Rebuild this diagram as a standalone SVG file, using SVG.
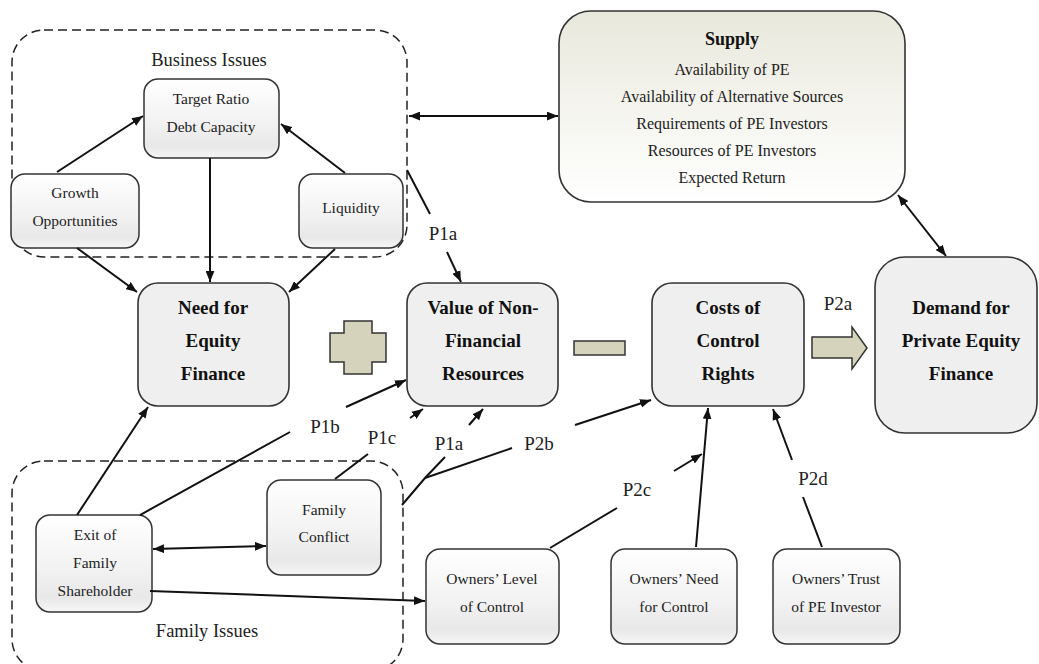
<svg xmlns="http://www.w3.org/2000/svg" width="1039" height="664" viewBox="0 0 1039 664">
<defs>
<linearGradient id="gs" x1="0" y1="0" x2="0" y2="1">
<stop offset="0" stop-color="#ffffff"/><stop offset="0.55" stop-color="#f2f2f2"/><stop offset="0.85" stop-color="#e8e8e8"/><stop offset="1" stop-color="#f6f6f6"/>
</linearGradient>
<linearGradient id="gsup" x1="0" y1="0" x2="0" y2="1">
<stop offset="0" stop-color="#e9e8dc"/><stop offset="1" stop-color="#ffffff"/>
</linearGradient>
<marker id="arr" viewBox="0 0 10 8" refX="10" refY="4" markerWidth="11" markerHeight="9" markerUnits="userSpaceOnUse" orient="auto-start-reverse">
<path d="M0,0 L10,4 L0,8 z" fill="#111"/>
</marker>
</defs>
<style>
.box{fill:url(#gs);stroke:#333;stroke-width:1.5}
.big{fill:#efefef;stroke:#333;stroke-width:1.6}
.dash{fill:none;stroke:#222;stroke-width:1.5;stroke-dasharray:9,5}
text{font-family:"Liberation Serif","Times New Roman","DejaVu Serif",serif;text-anchor:middle}
.t{font-size:15.5px;fill:#222}
.s{font-size:16px;fill:#222}
.b{font-size:19px;font-weight:bold;fill:#111}
.g{font-size:18.5px;fill:#222}
.p{font-size:19px;fill:#222}
.c line,.c polyline{stroke:#111;stroke-width:2;fill:none}
.op{fill:#d6d3bd;stroke:#333;stroke-width:1.5}
</style>

<g id="business-issues">
<rect class="dash" x="12" y="30" width="395" height="227" rx="32"/>
<text class="g" x="209" y="66">Business Issues</text>
</g>
<g id="family-issues">
<rect class="dash" x="12" y="461" width="391" height="210" rx="32"/>
<text class="g" x="207" y="637">Family Issues</text>
</g>

<g id="target-ratio"><rect class="box" x="144" y="79" width="135" height="79" rx="14"/>
<text class="t" x="211" y="104">Target Ratio</text><text class="t" x="211" y="132">Debt Capacity</text></g>
<g id="growth"><rect class="box" x="11" y="174" width="128" height="74" rx="14"/>
<text class="t" x="75" y="198">Growth</text><text class="t" x="75" y="226">Opportunities</text></g>
<g id="liquidity"><rect class="box" x="299" y="174" width="104" height="74" rx="14"/>
<text class="t" x="351" y="213">Liquidity</text></g>

<g id="supply"><rect x="559" y="11" width="346" height="191" rx="32" fill="url(#gsup)" stroke="#333" stroke-width="1.6"/>
<text class="b" x="732" y="45" style="font-size:18px">Supply</text>
<text class="s" x="732" y="75">Availability of PE</text>
<text class="s" x="732" y="102">Availability of Alternative Sources</text>
<text class="s" x="732" y="129">Requirements of PE Investors</text>
<text class="s" x="732" y="156">Resources of PE Investors</text>
<text class="s" x="732" y="183">Expected Return</text></g>

<g id="need"><rect class="big" x="138" y="283" width="151" height="123" rx="20"/>
<text class="b" x="213" y="314">Need for</text><text class="b" x="213" y="347">Equity</text><text class="b" x="213" y="380">Finance</text></g>
<g id="value"><rect class="big" x="407" y="283" width="151" height="123" rx="20"/>
<text class="b" x="483" y="314">Value of Non-</text><text class="b" x="483" y="347">Financial</text><text class="b" x="483" y="380">Resources</text></g>
<g id="costs"><rect class="big" x="652" y="283" width="152" height="123" rx="20"/>
<text class="b" x="728" y="314">Costs of</text><text class="b" x="728" y="347">Control</text><text class="b" x="728" y="380">Rights</text></g>
<g id="demand"><rect class="big" x="875" y="257" width="162" height="176" rx="30"/>
<text class="b" x="961" y="314">Demand for</text><text class="b" x="961" y="347">Private Equity</text><text class="b" x="961" y="380">Finance</text></g>

<g id="plus"><polygon class="op" points="344,321 372,321 372,333 386,333 386,362 372,362 372,374 344,374 344,362 330,362 330,333 344,333"/></g>
<g id="minus"><rect class="op" x="574" y="341" width="51" height="14"/></g>
<g id="p2a-arrow"><polygon class="op" points="812,337 852,337 852,327 867,348 852,369 852,358 812,358"/></g>

<g id="exit"><rect class="box" x="36" y="515" width="116" height="97" rx="14"/>
<text class="t" x="95" y="540">Exit of</text><text class="t" x="95" y="568">Family</text><text class="t" x="95" y="596">Shareholder</text></g>
<g id="conflict"><rect class="box" x="267" y="480" width="114" height="95" rx="14"/>
<text class="t" x="324" y="515">Family</text><text class="t" x="324" y="542">Conflict</text></g>
<g id="owners-level"><rect class="box" x="426" y="549" width="133" height="95" rx="14"/>
<text class="t" x="492" y="584">Owners’ Level</text><text class="t" x="492" y="612">of Control</text></g>
<g id="owners-need"><rect class="box" x="611" y="549" width="126" height="95" rx="14"/>
<text class="t" x="674" y="584">Owners’ Need</text><text class="t" x="674" y="612">for Control</text></g>
<g id="owners-trust"><rect class="box" x="773" y="549" width="127" height="95" rx="14"/>
<text class="t" x="836" y="584">Owners’ Trust</text><text class="t" x="836" y="612">of PE Investor</text></g>

<g id="connectors" class="c">
<line x1="57" y1="172" x2="143" y2="116" marker-end="url(#arr)"/>
<line x1="345" y1="173" x2="281" y2="124" marker-end="url(#arr)"/>
<line x1="210" y1="158" x2="210" y2="282" marker-end="url(#arr)"/>
<line x1="77" y1="248" x2="137" y2="292" marker-end="url(#arr)"/>
<line x1="335" y1="249" x2="289" y2="292" marker-end="url(#arr)"/>
<line x1="409" y1="116" x2="558" y2="116" marker-start="url(#arr)" marker-end="url(#arr)"/>
<line x1="898" y1="195" x2="946" y2="256" marker-start="url(#arr)" marker-end="url(#arr)"/>
<line x1="407" y1="170" x2="430" y2="214"/>
<line x1="447" y1="252" x2="461" y2="282" marker-end="url(#arr)"/>
<line x1="77" y1="515" x2="148" y2="407" marker-end="url(#arr)"/>
<line x1="140" y1="515" x2="290" y2="432"/>
<line x1="346" y1="407" x2="406" y2="380" marker-end="url(#arr)"/>
<line x1="335" y1="479" x2="368" y2="454"/>
<line x1="410" y1="418" x2="423" y2="409" marker-end="url(#arr)"/>
<polyline points="402,505 425,478 445,457"/>
<line x1="425" y1="478" x2="512" y2="448"/>
<line x1="469" y1="425" x2="483" y2="409" marker-end="url(#arr)"/>
<line x1="575" y1="425" x2="651" y2="400" marker-end="url(#arr)"/>
<line x1="153" y1="549" x2="266" y2="546" marker-start="url(#arr)" marker-end="url(#arr)"/>
<line x1="150" y1="591" x2="425" y2="601" marker-end="url(#arr)"/>
<line x1="550" y1="548" x2="617" y2="508"/>
<line x1="674" y1="471" x2="702" y2="454" marker-end="url(#arr)"/>
<line x1="696" y1="547" x2="708" y2="408" marker-end="url(#arr)"/>
<line x1="822" y1="547" x2="803" y2="497"/>
<line x1="792" y1="460" x2="773" y2="409" marker-end="url(#arr)"/>
</g>

<g id="labels">
<text class="p" x="443" y="240">P1a</text>
<text class="p" x="325" y="433">P1b</text>
<text class="p" x="382" y="444">P1c</text>
<text class="p" x="449" y="450">P1a</text>
<text class="p" x="539" y="450">P2b</text>
<text class="p" x="637" y="496">P2c</text>
<text class="p" x="813" y="485">P2d</text>
<text class="p" x="838" y="310">P2a</text>
</g>
</svg>
